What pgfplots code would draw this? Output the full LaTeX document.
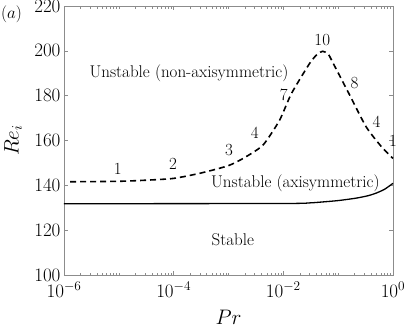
\RequirePackage{fix-cm}
\documentclass[border=0pt]{standalone}
\usepackage{pgfplots}
\pgfplotsset{compat=1.18}
\tikzset{ann/.style={font=\fontsize{17}{20}\selectfont}}
\begin{document}
\begin{tikzpicture}
\begin{axis}[
  at={(0,0)}, anchor=south west,
  scale only axis, width=329pt, height=269pt,
  xmode=log, xmin=1e-6, xmax=1, ymin=100, ymax=220,
  xtick={1e-6,1e-4,1e-2,1},
  minor xtick={2e-6,3e-6,4e-6,5e-6,6e-6,7e-6,8e-6,9e-6,1e-5,2e-5,3e-5,4e-5,5e-5,6e-5,7e-5,8e-5,9e-5,2e-4,3e-4,4e-4,5e-4,6e-4,7e-4,8e-4,9e-4,1e-3,2e-3,3e-3,4e-3,5e-3,6e-3,7e-3,8e-3,9e-3,2e-2,3e-2,4e-2,5e-2,6e-2,7e-2,8e-2,9e-2,1e-1,2e-1,3e-1,4e-1,5e-1,6e-1,7e-1,8e-1,9e-1},
  ytick={100,120,...,220},
  tick align=inside,
  axis line style={black!45},
  every tick/.style={black!45},
  major tick length=4pt, minor tick length=2.5pt,
  tick label style={font=\fontsize{19}{22}\selectfont},
  xticklabel style={yshift=-3pt},
  xlabel={$Pr$}, ylabel={$Re_i$},
  every axis x label/.style={at={(axis description cs:0.5,-0.156)}, anchor=center, font=\fontsize{21}{24}\selectfont},
  every axis y label/.style={at={(axis description cs:-0.155,0.5)}, anchor=center, rotate=90, font=\fontsize{21}{24}\selectfont},
  clip=false,
]
\addplot[black, line width=1.6pt, dash pattern=on 6pt off 4pt, smooth, tension=0.4] coordinates {
(1.29e-6,141.6) (1e-5,141.8) (3.16e-5,142.3) (1e-4,143.1) (3.16e-4,145.5) (1e-3,148.8) (2e-3,152.5) (4.27e-3,158) (8.51e-3,169) (1.41e-2,181) (3.02e-2,194.4) (4.17e-2,198.5) (5.25e-2,199.8) (6.61e-2,198.5) (8.13e-2,194.4) (0.162,180.3) (0.324,166.1) (0.617,157.2) (1,152)
};
\addplot[black, line width=1.3pt, smooth, tension=0.4] coordinates {
(1e-6,131.8) (1e-2,131.9) (0.0316,132.2) (0.0525,132.6) (0.1,133.2) (0.214,134.3) (0.355,135.4) (0.501,136.6) (0.708,138.3) (1,140.9)
};
\node[ann] at (axis cs:1.905e-4,190.1) {Unstable (non-axisymmetric)};
\node[ann] at (axis cs:0.0166,141) {Unstable (axisymmetric)};
\node[ann] at (axis cs:1.2e-3,115.8) {Stable};
\node[ann] at (axis cs:9.55e-6,147.3) {1};
\node[ann] at (axis cs:9.77e-5,149.5) {2};
\node[ann] at (axis cs:1.02e-3,155.7) {3};
\node[ann] at (axis cs:3.02e-3,163.3) {4};
\node[ann] at (axis cs:1.02e-2,180.3) {7};
\node[ann] at (axis cs:0.0513,204.8) {10};
\node[ann] at (axis cs:0.1995,185.5) {8};
\node[ann] at (axis cs:0.501,168.4) {4};
\node[ann] at (axis cs:1.0,159.9) {1};
\node[font=\fontsize{17}{20}\selectfont] at ([xshift=-52.5pt,yshift=-8.5pt]rel axis cs:0,1) {$(a)$};
\end{axis}
\pgfresetboundingbox
\useasboundingbox (-64pt,-52pt) rectangle (343pt,275pt);
\end{tikzpicture}
\end{document}
